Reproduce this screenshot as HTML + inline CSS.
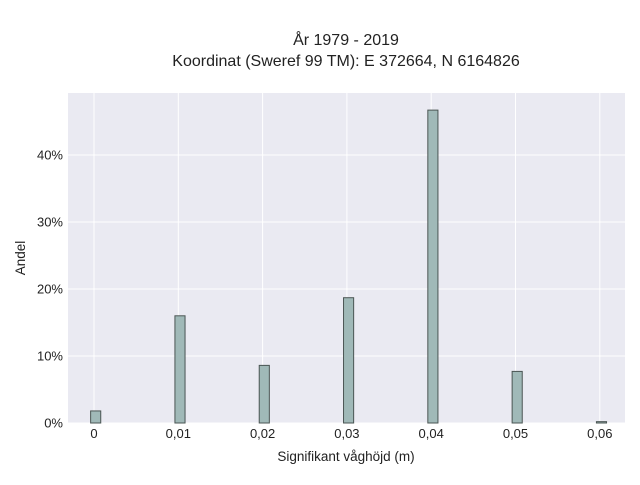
<!DOCTYPE html>
<html><head><meta charset="utf-8"><style>
body{margin:0;background:#fff;font-family:"Liberation Sans",sans-serif;}
</style></head><body>
<svg width="640" height="480" xmlns="http://www.w3.org/2000/svg">
<g id="root"></g>
</svg>
<script>
const categories=[0,0.01,0.02,0.03,0.04,0.05,0.06];
const shares=[1.8,16.0,8.6,18.7,46.7,7.7,0.2];
const xTickLabels=["0","0,01","0,02","0,03","0,04","0,05","0,06"];
const yTicks=[0,10,20,30,40];
const NS="http://www.w3.org/2000/svg";
const root=document.getElementById('root');
const L=68,R=625,T=93,B=423;
const xs=v=>94+v*8430;
const ys=v=>423-v*6.7;
function mk(t,a,p){const e=document.createElementNS(NS,t);for(const k in a)e.setAttribute(k,a[k]);(p||root).appendChild(e);return e;}
const bg=mk('rect',{x:L,y:T,width:R-L,height:B-T,fill:'#eaeaf2'});


categories.forEach((c,i)=>{
 const g=mk('line',{x1:xs(c),x2:xs(c),y1:T,y2:B,stroke:'#fff','stroke-width':1});
 
 
 const t=mk('text',{x:xs(c),y:438,'text-anchor':'middle','font-size':13,fill:'#222'});
 t.textContent=xTickLabels[i];
 
 
});
yTicks.forEach(v=>{
 const g=mk('line',{x1:L,x2:R,y1:ys(v),y2:ys(v),stroke:'#fff','stroke-width':1});
 
 
 const t=mk('text',{x:63,y:ys(v)+4.5,'text-anchor':'end','font-size':13,fill:'#222'});
 t.textContent=v+'%';
 
 
});
categories.forEach((c,i)=>{
 const x0=xs(c-0.0004),x1=xs(c+0.0008);
 const r=mk('rect',{x:x0,y:ys(shares[i]),width:x1-x0,height:ys(0)-ys(shares[i]),fill:'#a0b9b8',stroke:'#4a5553','stroke-width':1});
 
 
});
function txt(x,y,s,size,name,extra){const t=mk('text',Object.assign({x:x,y:y,'text-anchor':'middle','font-size':size,fill:'#222'},extra||{}));t.textContent=s;return t;}
txt(346,45,'År 1979 - 2019',16,'title-line-1');
txt(346,66,'Koordinat (Sweref 99 TM): E 372664, N 6164826',16,'title-line-2');
txt(346,461,'Signifikant våghöjd (m)',13.5,'x-axis-title');
txt(0,0,'Andel',13.5,'y-axis-title',{transform:'translate(25,258) rotate(-90)'});
</script>
</body></html>
